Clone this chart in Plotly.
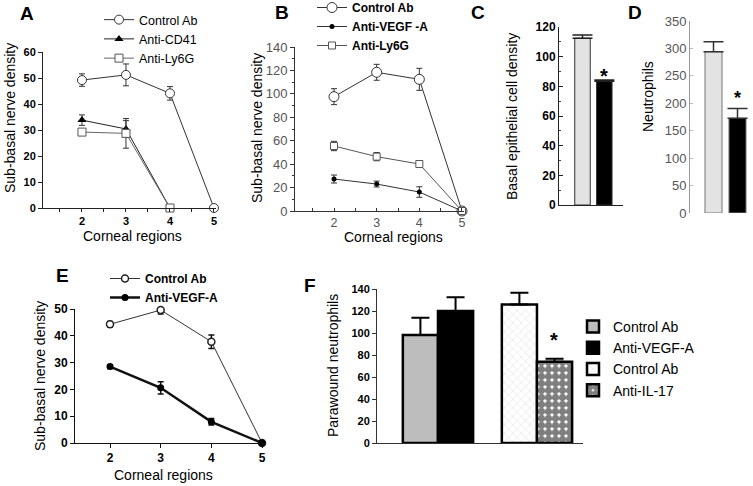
import plotly.graph_objects as go

W, H = 753, 486
def px(x): return x / W
def py(y): return 1 - y / H

FONT = "Arial, Liberation Sans, sans-serif"

# ---------------- data ----------------
regions = [2, 3, 4, 5]
regions_to4 = [2, 3, 4]

# Panel A
A_control = [49.2, 51.2, 44.1, 0]
A_control_err = [2.4, 4.2, 2.6, 0]
A_cd41 = [33.8, 30.4, 0]
A_cd41_err = [2.0, 3.2, 0]
A_ly6g = [29.2, 28.7, 0]
A_ly6g_err = [0.6, 5.7, 0]

# Panel B
B_control = [97.6, 118.4, 112.4, 0]
B_control_err = [6.8, 6.8, 9.4, 0]
B_vegf = [27.3, 23.0, 16.2, 0]
B_vegf_err = [3.4, 2.5, 4.5, 0]
B_ly6g = [55.5, 46.4, 40.1, 0]
B_ly6g_err = [4.0, 3.5, 2.5, 0]

# Panel C
C_groups = ["Control", "Treated"]
C_values = [112.4, 83.5]
C_err = [2.2, 0.8]

# Panel D
D_groups = ["Control", "Treated"]
D_values = [294, 172.6]
D_err = [18, 18]

# Panel E
E_control = [44.3, 49.6, 37.8, 0]
E_control_err = [1.0, 1.5, 2.5, 0]
E_vegf = [28.5, 20.6, 7.9, 0]
E_vegf_err = [0.7, 2.3, 1.2, 0]

# Panel F
F_groups = ["VEGF-A", "IL-17"]
F_ctrl1 = [98.2]
F_ctrl1_err = [15.7]
F_vegf = [120.0]
F_vegf_err = [12.4]
F_ctrl2 = [126.0]
F_ctrl2_err = [10.6]
F_il17 = [73.9]
F_il17_err = [2.7]

fig = go.Figure()

def err(arr, color="#333", width=3, thick=1, up_only=False):
    d = dict(type="data", array=arr, visible=True, color=color, width=width, thickness=thick)
    if up_only:
        d.update(symmetric=False, arrayminus=[0] * len(arr))
    return d

# ---------- Panel A ----------
fig.add_trace(go.Scatter(x=regions, y=A_control, mode="lines+markers", name="Control Ab",
    line=dict(color="#333", width=1), marker=dict(symbol="circle", size=9, color="white", line=dict(color="#333", width=1)),
    error_y=err(A_control_err), cliponaxis=False, xaxis="x", yaxis="y", legend="legend"))
fig.add_trace(go.Scatter(x=regions_to4, y=A_cd41, mode="lines+markers", name="Anti-CD41",
    line=dict(color="#222", width=1), marker=dict(symbol="triangle-up", size=8, color="black"),
    error_y=err(A_cd41_err), cliponaxis=False, xaxis="x", yaxis="y", legend="legend"))
fig.add_trace(go.Scatter(x=regions_to4, y=A_ly6g, mode="lines+markers", name="Anti-Ly6G",
    line=dict(color="#666", width=1), marker=dict(symbol="square", size=8, color="white", line=dict(color="#555", width=1)),
    error_y=err(A_ly6g_err), cliponaxis=False, xaxis="x", yaxis="y", legend="legend"))

# ---------- Panel B ----------
fig.add_trace(go.Scatter(x=regions, y=B_control, mode="lines+markers", name="Control Ab",
    line=dict(color="#333", width=1), marker=dict(symbol="circle", size=10, color="white", line=dict(color="#333", width=1)),
    error_y=err(B_control_err), cliponaxis=False, xaxis="x2", yaxis="y2", legend="legend2"))
fig.add_trace(go.Scatter(x=regions, y=B_vegf, mode="lines+markers", name="Anti-VEGF -A",
    line=dict(color="#333", width=1), marker=dict(symbol="circle", size=5, color="black"),
    error_y=err(B_vegf_err), cliponaxis=False, xaxis="x2", yaxis="y2", legend="legend2"))
fig.add_trace(go.Scatter(x=regions, y=B_ly6g, mode="lines+markers", name="Anti-Ly6G",
    line=dict(color="#555", width=1), marker=dict(symbol="square", size=7, color="white", line=dict(color="#555", width=1)),
    error_y=err(B_ly6g_err), cliponaxis=False, xaxis="x2", yaxis="y2", legend="legend2"))

# ---------- Panel C ----------
fig.add_trace(go.Bar(x=C_groups, y=C_values, marker=dict(color=["#e3e3e3", "black"], line=dict(color="#333", width=1)),
    error_y=err(C_err, color="#222", width=10, thick=1.5, up_only=True), showlegend=False, xaxis="x3", yaxis="y3"))

# ---------- Panel D ----------
fig.add_trace(go.Bar(x=D_groups, y=D_values, marker=dict(color=["#e3e3e3", "black"], line=dict(color="#777", width=1)),
    error_y=err(D_err, color="#333", width=10, thick=1.5, up_only=True), showlegend=False, xaxis="x4", yaxis="y4"))

# ---------- Panel E ----------
fig.add_trace(go.Scatter(x=regions, y=E_control, mode="lines+markers", name="Control Ab",
    line=dict(color="#333", width=1), marker=dict(symbol="circle", size=7, color="white", line=dict(color="#222", width=1.5)),
    error_y=err(E_control_err, color="#111", width=3, thick=1.5), cliponaxis=False, xaxis="x5", yaxis="y5", legend="legend3"))
fig.add_trace(go.Scatter(x=regions, y=E_vegf, mode="lines+markers", name="Anti-VEGF-A",
    line=dict(color="#111", width=2.5), marker=dict(symbol="circle", size=7, color="black"),
    error_y=err(E_vegf_err, color="#111", width=3, thick=1.5), cliponaxis=False, xaxis="x5", yaxis="y5", legend="legend3"))

# ---------- Panel F ----------
bar_line = dict(color="black", width=2.5)
fig.add_trace(go.Bar(x=[F_groups[0]], y=F_ctrl1, name="Control Ab", offsetgroup="a",
    marker=dict(color="#bdbdbd", line=bar_line), error_y=err(F_ctrl1_err, color="black", width=9, thick=2, up_only=True),
    xaxis="x6", yaxis="y6", legend="legend4"))
fig.add_trace(go.Bar(x=[F_groups[0]], y=F_vegf, name="Anti-VEGF-A", offsetgroup="b",
    marker=dict(color="black", line=bar_line), error_y=err(F_vegf_err, color="black", width=9, thick=2, up_only=True),
    xaxis="x6", yaxis="y6", legend="legend4"))
fig.add_trace(go.Bar(x=[F_groups[1]], y=F_ctrl2, name="Control Ab", offsetgroup="a",
    marker=dict(color="white", line=bar_line, pattern=dict(shape="x", fgcolor="#c4c4c4", bgcolor="white", size=6, solidity=0.2)),
    error_y=err(F_ctrl2_err, color="black", width=9, thick=2, up_only=True),
    xaxis="x6", yaxis="y6", legend="legend4"))
fig.add_trace(go.Bar(x=[F_groups[1]], y=F_il17, name="Anti-IL-17", offsetgroup="b",
    marker=dict(color="black", line=bar_line, pattern=dict(shape=".", fgcolor="black", bgcolor="white", size=7, solidity=0.8)),
    error_y=err(F_il17_err, color="black", width=9, thick=2, up_only=True),
    xaxis="x6", yaxis="y6", legend="legend4"))

# ---------------- axes ----------------
def xdom(a, b): return [px(a), px(b)]
def ydom(top, bottom): return [py(bottom), py(top)]

bold = lambda s, c="black": dict(family=FONT, size=s, color=c, weight="bold")
reg = lambda s, c="#555": dict(family=FONT, size=s, color=c)

common_line = dict(showline=True, showgrid=False, zeroline=False)

layout = dict(
    width=W, height=H, margin=dict(l=0, r=0, t=0, b=0, autoexpand=False),
    paper_bgcolor="white", plot_bgcolor="white",
    barmode="group", bargap=0.29, bargroupgap=0,
    font=dict(family=FONT, size=12, color="black"),
    # A
    xaxis=dict(domain=xdom(43, 216), range=[1.114, 5.046], anchor="y", dtick=1, tick0=0,
               ticks="outside", ticklen=3, linecolor="#222", tickcolor="#222", tickfont=bold(11),
               minor=dict(dtick=0.5, ticks="outside", ticklen=3, tickcolor="#222"), **common_line),
    yaxis=dict(domain=ydom(52, 208), range=[0, 60], anchor="x", dtick=10,
               ticks="outside", ticklen=4, linecolor="#222", tickcolor="#222", tickfont=bold(11), **common_line),
    # B
    xaxis2=dict(domain=xdom(295, 464), range=[1.086, 5.047], anchor="y2", dtick=1, tick0=0,
                ticks="inside", ticklen=3, linecolor="#333", tickcolor="#333", tickfont=reg(12.5),
                minor=dict(dtick=0.5, ticks="inside", ticklen=3, tickcolor="#333"), **common_line),
    yaxis2=dict(domain=ydom(47, 211), range=[0, 140], anchor="x2", dtick=20,
                ticks="outside", ticklen=4, linecolor="#333", tickcolor="#333", tickfont=reg(13),
                minor=dict(dtick=10, ticks="outside", ticklen=2, tickcolor="#333"), **common_line),
    # C
    xaxis3=dict(domain=xdom(559, 623), range=[-1.078, 1.858], anchor="y3", showticklabels=False,
                ticks="", linecolor="#222", **common_line),
    yaxis3=dict(domain=ydom(27, 205), range=[0, 120], anchor="x3", dtick=20,
                ticks="inside", ticklen=4, linecolor="#222", tickcolor="#222", tickfont=bold(12),
                minor=dict(dtick=10, ticks="inside", ticklen=2, tickcolor="#444"), **common_line),
    # D
    xaxis4=dict(domain=xdom(690, 753), range=[-0.979, 1.646], anchor="y4", showticklabels=False,
                ticks="", showline=False, showgrid=False, zeroline=False),
    yaxis4=dict(domain=ydom(21, 213), range=[0, 350], anchor="x4", dtick=50,
                ticks="inside", ticklen=3, linecolor="#999", tickcolor="#bbb", tickfont=reg(13),
                **common_line),
    # E
    xaxis5=dict(domain=xdom(75, 264), range=[1.309, 5.039], anchor="y5", dtick=1, tick0=0,
                ticks="outside", ticklen=4, linecolor="#111", tickcolor="#111", tickfont=bold(12), **common_line),
    yaxis5=dict(domain=ydom(309, 443), range=[0, 50], anchor="x5", dtick=10,
                ticks="outside", ticklen=4, linecolor="#111", tickcolor="#111", tickfont=bold(12), **common_line),
    # F
    xaxis6=dict(domain=xdom(377, 583), range=[-0.616, 1.465], anchor="y6", showticklabels=False,
                ticks="", linecolor="#333", **common_line),
    yaxis6=dict(domain=ydom(289, 443), range=[0, 140], anchor="x6", dtick=20,
                ticks="outside", ticklen=4, linecolor="#333", tickcolor="#333", tickfont=bold(11), **common_line),
    # legends
    legend=dict(x=px(99), y=py(5), xanchor="left", yanchor="top", bgcolor="rgba(0,0,0,0)",
                font=dict(family=FONT, size=12.5, color="black")),
    legend2=dict(x=px(312), y=py(-7), xanchor="left", yanchor="top", bgcolor="rgba(0,0,0,0)",
                 font=dict(family=FONT, size=12, color="black", weight="bold")),
    legend3=dict(x=px(105), y=py(264), xanchor="left", yanchor="top", bgcolor="rgba(0,0,0,0)",
                 font=dict(family=FONT, size=12, color="black", weight="bold")),
    legend4=dict(x=px(573), y=py(311), xanchor="left", yanchor="top", bgcolor="rgba(0,0,0,0)",
                 font=dict(family=FONT, size=14, color="black")),
)
fig.update_layout(**layout)

# ---------------- annotations ----------------
def ann(text, x, y, size, angle=0, weight="normal"):
    fig.add_annotation(text=text, x=px(x), y=py(y), xref="paper", yref="paper", showarrow=False,
                       xanchor="center", yanchor="middle", textangle=angle,
                       font=dict(family=FONT, size=size, color="black", weight=weight))

for letter, lx, ly in [("A", 27, 13), ("B", 282, 12), ("C", 478, 12), ("D", 635, 12), ("E", 62, 275), ("F", 310, 285)]:
    ann(letter, lx, ly, 19, weight="bold")

ann("Sub-basal nerve density", 10, 118, 14, -90)
ann("Corneal regions", 132, 236, 14)
ann("Sub-basal nerve density", 257, 128, 14, -90)
ann("Corneal regions", 393, 237, 14)
ann("Basal epithelial cell density", 512, 116, 14, -90)
ann("Neutrophils", 648, 97, 14, -90)
ann("Sub-basal nerve density", 40, 376, 14, -90)
ann("Corneal regions", 163, 475, 14)
ann("Parawound neutrophils", 333, 366, 14, -90)

# significance stars (anchored on the bar + error top)
def star(xref, yref, x, y, xshift=0, yshift=0, size=18):
    fig.add_annotation(text="*", x=x, y=y, xref=xref, yref=yref, showarrow=False,
                       xanchor="center", yanchor="middle", xshift=xshift, yshift=yshift,
                       font=dict(family=FONT, size=size, color="black", weight="bold"))

star("x3", "y3", C_groups[1], C_values[1] + C_err[1], yshift=4, size=20)
star("x4", "y4", D_groups[1], D_values[1] + D_err[1], yshift=10, size=18)
star("x6", "y6", F_groups[1], F_il17[0] + F_il17_err[0], xshift=17, yshift=19, size=20)

fig.write_html("out.html", config={"displayModeBar": False},
               post_script="document.body.style.margin='0';document.body.style.padding='0';")
